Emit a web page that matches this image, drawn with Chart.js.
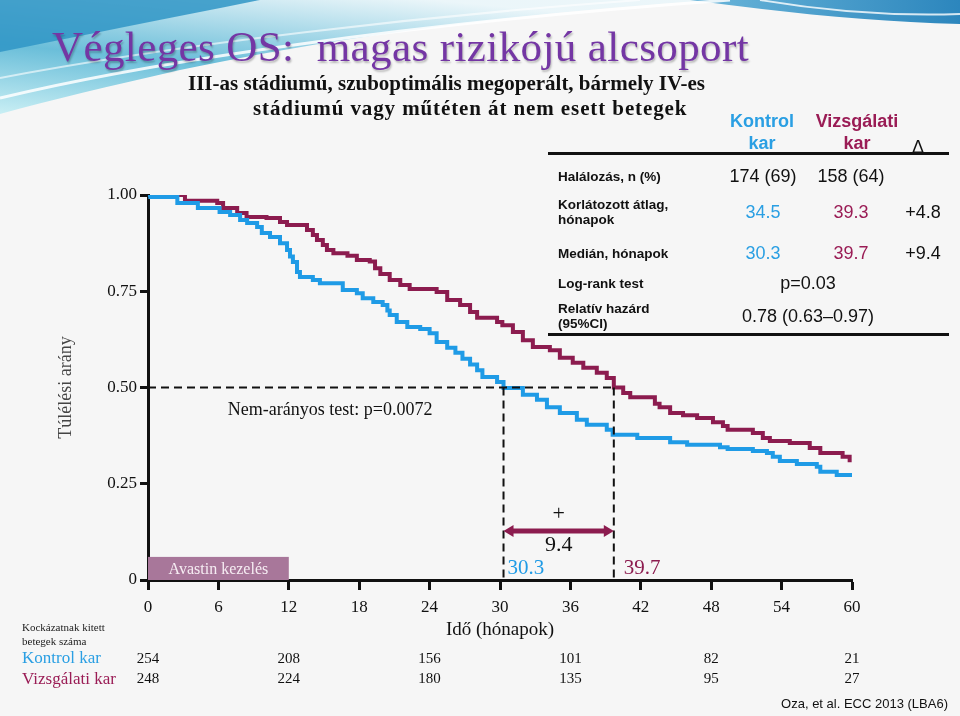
<!DOCTYPE html>
<html>
<head>
<meta charset="utf-8">
<script src="https://cdn.jsdelivr.net/npm/chart.js@4.4.1/dist/chart.umd.min.js"></script>
<style>
  html, body { margin: 0; padding: 0; }
  body { width: 960px; height: 716px; position: relative; overflow: hidden; background: #f6f6f6; font-family: 'Liberation Serif', serif; }
  #bg, #chart { position: absolute; left: 0; top: 0; }
  .t { position: absolute; white-space: pre; transform: translateY(-50%); }
  .c { position: absolute; white-space: pre; transform: translate(-50%, -50%); text-align: center; }
  .sans { font-family: 'Liberation Sans', Arial, sans-serif; }
  .lbl { font-family: 'Liberation Sans', Arial, sans-serif; font-weight: bold; font-size: 13.5px; line-height: 15px; color: #111; }
  .val { font-family: 'Liberation Sans', Arial, sans-serif; font-size: 18px; color: #111; }
  .rule { position: absolute; left: 548px; width: 401px; height: 3px; background: #111; }
</style>
</head>
<body>
<svg id="bg" width="960" height="716">
  <defs>
    <linearGradient id="sw" x1="0" y1="1" x2="0.6" y2="0">
      <stop offset="0" stop-color="#c4eef4"/>
      <stop offset="0.45" stop-color="#5bb8d6"/>
      <stop offset="1" stop-color="#eaf6fa"/>
    </linearGradient>
    <linearGradient id="band" x1="0" y1="0" x2="1" y2="0">
      <stop offset="0" stop-color="#6bb6da"/>
      <stop offset="1" stop-color="#2c86bd"/>
    </linearGradient>
  </defs>
  <path d="M0,0 L720,0 C520,12 330,38 180,70 C110,86 50,100 0,114 Z" fill="url(#sw)" opacity="0.9"/>
  <path d="M0,0 L260,0 C170,18 80,36 0,52 Z" fill="#2f95c6" opacity="0.85"/>
  <path d="M690,0 L960,0 L960,24 C870,22 780,12 690,0 Z" fill="url(#band)"/>
  <path d="M0,98 C150,62 400,24 730,0" stroke="#ffffff" stroke-width="3" fill="none" opacity="0.85"/>
  <path d="M0,78 C180,44 420,16 640,0" stroke="#ffffff" stroke-width="2" fill="none" opacity="0.6"/>
  <path d="M760,0 C830,12 900,16 960,14" stroke="#ffffff" stroke-width="2" fill="none" opacity="0.8"/>
</svg>
<canvas id="chart" width="960" height="716"></canvas>

<div class="t" style="left:52px; top:46px; font-size:43px; letter-spacing:0.4px; color:#7436a4; text-shadow:1px 2px 2px rgba(0,0,0,0.25);">Végleges OS:  magas rizikójú alcsoport</div>
<div class="t" style="left:188px; top:83px; font-size:21px; font-weight:bold; color:#111;">III-as stádiumú, szuboptimális megoperált, bármely IV-es</div>
<div class="t" style="left:253px; top:108px; font-size:21px; font-weight:bold; letter-spacing:0.9px; color:#111;">stádiumú vagy műtéten át nem esett betegek</div>

<div class="c sans" style="left:762px; top:132px; font-size:18px; font-weight:bold; line-height:22px; color:#2a9fe3;">Kontrol
kar</div>
<div class="c sans" style="left:857px; top:132px; font-size:18px; font-weight:bold; line-height:22px; color:#9a1c55;">Vizsgálati
kar</div>
<div class="c sans" style="left:918px; top:147px; font-size:18px; color:#111;">Δ</div>
<div class="rule" style="top:152px;"></div>
<div class="rule" style="top:333px;"></div>
<div id="tableRows"></div>

<div class="t" style="left:22px; top:634px; font-size:11px; line-height:14px; color:#222;">Kockázatnak kitett
betegek száma</div>
<div class="t" style="left:22px; top:658px; font-size:17px; color:#2a9fe3;">Kontrol kar</div>
<div class="t" style="left:22px; top:679px; font-size:17px; color:#9a1c55;">Vizsgálati kar</div>
<div class="t sans" style="right:12px; top:703px; font-size:13px; color:#111;">Oza, et al. ECC 2013 (LBA6)</div>

<script>
// Kaplan-Meier lépcsők (hónap, túlélési arány)
const kontrolTime = [0, 0.2, 2.5, 4.25, 6.1, 7.0, 7.85, 8.45, 9.3, 9.7, 10.4, 11.25, 11.85, 12.1, 12.35, 12.7, 12.95, 14.05, 14.65, 16.6, 17.8, 18.3, 19.2, 20.0, 20.4, 20.6, 21.2, 22.1, 23.2, 24.0, 24.6, 25.5, 26.2, 26.8, 27.45, 28.05, 28.5, 29.75, 30.3, 31.95, 33.15, 34.0, 35.1, 36.55, 37.4, 39.1, 39.6, 41.7, 44.5, 45.95, 48.75, 49.4, 51.55, 52.75, 53.25, 53.85, 55.3, 57.0, 57.3, 58.7, 60.0];
const kontrolSurv = [1.0, 0.995, 0.979, 0.966, 0.956, 0.948, 0.935, 0.927, 0.917, 0.901, 0.891, 0.875, 0.857, 0.84, 0.826, 0.80, 0.787, 0.779, 0.771, 0.753, 0.745, 0.732, 0.722, 0.714, 0.70, 0.688, 0.67, 0.657, 0.652, 0.641, 0.618, 0.603, 0.59, 0.575, 0.56, 0.545, 0.527, 0.514, 0.499, 0.481, 0.468, 0.449, 0.434, 0.416, 0.403, 0.39, 0.377, 0.369, 0.358, 0.351, 0.345, 0.34, 0.335, 0.33, 0.32, 0.309, 0.301, 0.294, 0.281, 0.273, 0.273];
const vizsgTime = [0, 3.15, 5.9, 6.4, 7.6, 8.4, 10.1, 11.25, 11.85, 13.55, 14.05, 14.4, 14.9, 15.25, 15.8, 17.0, 17.8, 18.9, 19.35, 19.8, 20.6, 21.5, 22.3, 24.6, 25.5, 26.6, 27.45, 28.05, 29.75, 30.2, 31.1, 31.95, 32.8, 34.25, 35.1, 36.2, 37.1, 38.25, 39.1, 39.7, 40.5, 41.1, 43.2, 43.6, 44.5, 45.6, 46.8, 48.15, 49.0, 49.4, 51.55, 52.4, 53.0, 54.7, 56.4, 57.3, 59.2, 59.8];
const vizsgSurv = [1.0, 0.985, 0.979, 0.966, 0.953, 0.943, 0.94, 0.93, 0.922, 0.909, 0.896, 0.883, 0.87, 0.857, 0.849, 0.842, 0.831, 0.827, 0.81, 0.795, 0.779, 0.766, 0.756, 0.748, 0.727, 0.714, 0.696, 0.681, 0.67, 0.662, 0.644, 0.623, 0.605, 0.597, 0.577, 0.564, 0.551, 0.538, 0.525, 0.50, 0.486, 0.475, 0.458, 0.449, 0.434, 0.428, 0.421, 0.41, 0.40, 0.39, 0.382, 0.369, 0.361, 0.356, 0.343, 0.33, 0.32, 0.306];

const medianKontrol = 30.3;
const medianVizsg = 39.7;
const avastinEnd = 12;

const xTicks = [0, 6, 12, 18, 24, 30, 36, 42, 48, 54, 60];
const yTickValues = [0, 0.25, 0.5, 0.75, 1];
const yTickLabels = ['0', '0.25', '0.50', '0.75', '1.00'];

const riskMonths = [0, 12, 24, 36, 48, 60];
const riskKontrol = [254, 208, 156, 101, 82, 21];
const riskVizsg = [248, 224, 180, 135, 95, 27];

// jobb felső táblázat
const tableLabels = ['Halálozás, n (%)', 'Korlátozott átlag,\nhónapok', 'Medián, hónapok', 'Log-rank test', 'Relatív hazárd\n(95%CI)'];
const tableKontrol = ['174 (69)', '34.5', '30.3', '', ''];
const tableVizsg = ['158 (64)', '39.3', '39.7', '', ''];
const tableDelta = ['', '+4.8', '+9.4', '', ''];
const tableJoint = ['', '', '', 'p=0.03', '0.78 (0.63–0.97)'];

const BLUE = '#1f9be6';
const MAROON = '#8c1c4f';
const SERIF = "'Liberation Serif', serif";

// táblázat sorai
const rowY = [176, 212, 253, 283, 316];
const rowsEl = document.getElementById('tableRows');
tableLabels.forEach((lab, i) => {
    let html = `<div class="t lbl" style="left:558px; top:${rowY[i]}px;">${lab}</div>`;
    if (tableKontrol[i]) html += `<div class="c val" style="left:763px; top:${rowY[i]}px; color:${i === 0 ? '#111' : '#2a9fe3'};">${tableKontrol[i]}</div>`;
    if (tableVizsg[i]) html += `<div class="c val" style="left:851px; top:${rowY[i]}px; color:${i === 0 ? '#111' : '#9a1c55'};">${tableVizsg[i]}</div>`;
    if (tableDelta[i]) html += `<div class="c val" style="left:923px; top:${rowY[i]}px;">${tableDelta[i]}</div>`;
    if (tableJoint[i]) html += `<div class="c val" style="left:808px; top:${rowY[i]}px;">${tableJoint[i]}</div>`;
    rowsEl.insertAdjacentHTML('beforeend', html);
});

const toPoints = (xs, ys) => xs.map((x, i) => ({ x: x, y: ys[i] }));

const annotations = {
    id: 'annotations',
    beforeDatasetsDraw(chart) {
        const { ctx, scales: { x, y } } = chart;
        // Avastin kezelés sáv
        const x0 = x.getPixelForValue(0), x1 = x.getPixelForValue(avastinEnd);
        const yTop = y.getPixelForValue(0.06), yBot = y.getPixelForValue(0);
        ctx.save();
        ctx.fillStyle = '#a8779a';
        ctx.fillRect(x0, yTop, x1 - x0, yBot - yTop);
        ctx.fillStyle = '#f6edf3';
        ctx.font = `16px ${SERIF}`;
        ctx.textAlign = 'center';
        ctx.textBaseline = 'middle';
        ctx.fillText('Avastin kezelés', (x0 + x1) / 2, (yTop + yBot) / 2 + 1);
        ctx.restore();
    },
    afterDatasetsDraw(chart) {
        const { ctx, scales: { x, y } } = chart;
        ctx.save();
        // kettős nyíl a két medián között
        const ax0 = x.getPixelForValue(medianKontrol), ax1 = x.getPixelForValue(medianVizsg);
        const ay = y.getPixelForValue(0.127);
        ctx.strokeStyle = MAROON;
        ctx.fillStyle = MAROON;
        ctx.lineWidth = 5;
        ctx.beginPath();
        ctx.moveTo(ax0 + 8, ay);
        ctx.lineTo(ax1 - 8, ay);
        ctx.stroke();
        ctx.beginPath();
        ctx.moveTo(ax0, ay); ctx.lineTo(ax0 + 10, ay - 6); ctx.lineTo(ax0 + 10, ay + 6); ctx.closePath();
        ctx.moveTo(ax1, ay); ctx.lineTo(ax1 - 10, ay - 6); ctx.lineTo(ax1 - 10, ay + 6); ctx.closePath();
        ctx.fill();

        ctx.textBaseline = 'middle';
        ctx.textAlign = 'center';
        ctx.fillStyle = '#111';
        ctx.font = `22px ${SERIF}`;
        const mid = (medianKontrol + medianVizsg) / 2;
        ctx.fillText('+', x.getPixelForValue(mid), y.getPixelForValue(0.17));
        ctx.fillText((medianVizsg - medianKontrol).toFixed(1), x.getPixelForValue(mid), y.getPixelForValue(0.09));

        ctx.textAlign = 'left';
        ctx.font = `21px ${SERIF}`;
        ctx.fillStyle = BLUE;
        ctx.fillText(medianKontrol.toFixed(1), ax0 + 4, y.getPixelForValue(0.03));
        ctx.fillStyle = MAROON;
        ctx.fillText(medianVizsg.toFixed(1), ax1 + 10, y.getPixelForValue(0.03));

        ctx.fillStyle = '#111';
        ctx.font = `18px ${SERIF}`;
        ctx.fillText('Nem-arányos test: p=0.0072', x.getPixelForValue(6.8), y.getPixelForValue(0.44));

        // kockázati tábla számai
        ctx.textAlign = 'center';
        ctx.font = `15px ${SERIF}`;
        riskMonths.forEach((m, i) => {
            const px = x.getPixelForValue(m);
            ctx.fillText(String(riskKontrol[i]), px, 659);
            ctx.fillText(String(riskVizsg[i]), px, 679);
        });
        ctx.restore();
    }
};

const dashed = {
    borderColor: '#111',
    borderWidth: 2,
    borderDash: [8, 5],
    pointRadius: 0,
    fill: false
};

new Chart(document.getElementById('chart').getContext('2d'), {
    type: 'line',
    data: {
        datasets: [
            Object.assign({ data: [{ x: 0, y: 0.5 }, { x: medianVizsg, y: 0.5 }] }, dashed),
            Object.assign({ data: [{ x: medianKontrol, y: 0.5 }, { x: medianKontrol, y: 0 }] }, dashed),
            Object.assign({ data: [{ x: medianVizsg, y: 0.5 }, { x: medianVizsg, y: 0 }] }, dashed),
            {
                label: 'Kontrol kar',
                data: toPoints(kontrolTime, kontrolSurv),
                stepped: true,
                borderColor: BLUE,
                borderWidth: 4,
                pointRadius: 0,
                fill: false
            },
            {
                label: 'Vizsgálati kar',
                data: toPoints(vizsgTime, vizsgSurv),
                stepped: true,
                borderColor: MAROON,
                borderWidth: 4,
                pointRadius: 0,
                fill: false
            }
        ]
    },
    options: {
        responsive: false,
        animation: false,
        layout: { padding: { left: 50, top: 195, right: 108, bottom: 0 } },
        plugins: {
            legend: { display: false },
            tooltip: { enabled: false }
        },
        scales: {
            x: {
                type: 'linear',
                min: 0,
                max: 60,
                afterFit: s => { s.height = 136; },
                afterBuildTicks: s => { s.ticks = xTicks.map(v => ({ value: v })); },
                ticks: { font: { family: SERIF, size: 17 }, color: '#111', padding: 7, maxRotation: 0, autoSkip: false },
                grid: { drawOnChartArea: false, tickLength: 10, tickWidth: 3, tickColor: '#111' },
                border: { color: '#111', width: 3 },
                title: { display: true, text: 'Idő (hónapok)', font: { family: SERIF, size: 19 }, color: '#111', padding: { top: 0, bottom: 75 } }
            },
            y: {
                min: 0,
                max: 1,
                afterFit: s => { s.width = 98; },
                afterBuildTicks: s => { s.ticks = yTickValues.map(v => ({ value: v })); },
                ticks: {
                    font: { family: SERIF, size: 17 },
                    color: '#111',
                    padding: 3,
                    callback: v => yTickLabels[yTickValues.indexOf(v)]
                },
                grid: { drawOnChartArea: false, tickLength: 8, tickWidth: 3, tickColor: '#111' },
                border: { color: '#111', width: 3 },
                title: { display: true, text: 'Túlélési arány', font: { family: SERIF, size: 18 }, color: '#444', padding: { top: 5, bottom: 0 } }
            }
        }
    },
    plugins: [annotations]
});
</script>
</body>
</html>
